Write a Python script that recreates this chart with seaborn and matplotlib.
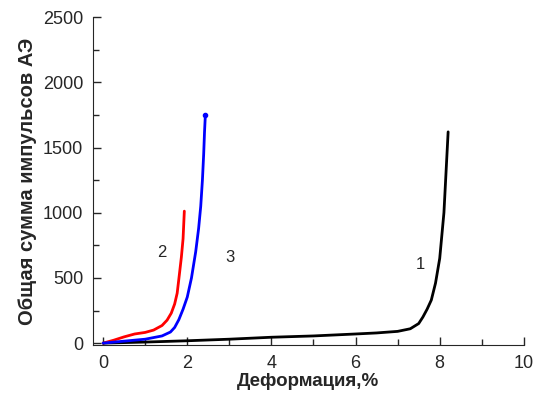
import numpy as np
import pandas as pd
import seaborn as sns
import matplotlib
matplotlib.use("Agg")
import matplotlib.pyplot as plt
from matplotlib.ticker import MultipleLocator

# curve 1 (black)
x1 = [0, 1.0, 2.0, 3.0, 4.0, 5.0, 6.0, 6.5, 7.0, 7.3, 7.5, 7.6, 7.7, 7.8, 7.9, 8.0, 8.1, 8.2]
y1 = [0, 8, 18, 30, 45, 55, 70, 78, 90, 110, 150, 200, 260, 330, 460, 650, 1000, 1620]
# curve 2 (red)
x2 = [0, 0.25, 0.5, 0.75, 1.0, 1.2, 1.4, 1.52, 1.62, 1.7, 1.76, 1.81, 1.86, 1.9, 1.93]
y2 = [0, 22, 48, 70, 82, 100, 135, 176, 230, 300, 383, 520, 660, 800, 1012]
# curve 3 (blue)
x3 = [0, 0.5, 1.0, 1.4, 1.6, 1.7, 1.8, 1.9, 2.0, 2.1, 2.2, 2.27, 2.32, 2.36, 2.39, 2.41, 2.43]
y3 = [0, 15, 30, 55, 85, 120, 180, 260, 353, 500, 700, 880, 1050, 1250, 1450, 1620, 1750]

labels = ["1", "2", "3"]
label_x = [7.55, 1.40, 3.02]
label_y = [600, 698, 660]

sns.set_style("ticks")
plt.rcParams['font.family'] = ['Liberation Sans', 'DejaVu Sans']

fig = plt.figure(figsize=(5.44, 3.98), dpi=100)
ax = fig.add_axes([0.171, 0.133, 0.792, 0.824])

for xs, ys, c in [(x1, y1, 'black'), (x2, y2, 'red'), (x3, y3, 'blue')]:
    df = pd.DataFrame({'x': xs, 'y': ys})
    sns.lineplot(data=df, x='x', y='y', color=c, linewidth=2.0, sort=False,
                 estimator=None, ax=ax)
ax.plot(x3[-1], y3[-1], 'o', color='blue', markersize=3)

for t, tx, ty in zip(labels, label_x, label_y):
    ax.text(tx, ty, t, fontsize=12, ha='center', va='center')

ax.set_xlim(-0.24, 10)
ax.set_ylim(-15, 2500)
ax.xaxis.set_major_locator(MultipleLocator(2))
ax.xaxis.set_minor_locator(MultipleLocator(1))
ax.yaxis.set_major_locator(MultipleLocator(500))
ax.yaxis.set_minor_locator(MultipleLocator(250))
ax.tick_params(which='both', direction='in', labelsize=13, width=1)
ax.tick_params(which='major', length=6, pad=7)
ax.tick_params(which='minor', length=4)
sns.despine(ax=ax)

ax.set_xlabel('Деформация,%', fontsize=13.5, fontweight='bold', labelpad=1)
ax.set_ylabel('Общая сумма импульсов АЭ', fontsize=14.5, fontweight='bold', labelpad=4)

fig.savefig('out.png', dpi=100)
